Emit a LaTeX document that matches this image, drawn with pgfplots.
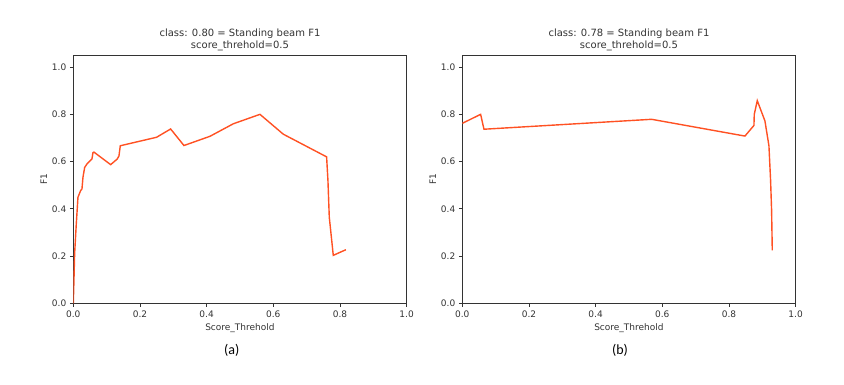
\documentclass[border=0pt]{standalone}
\usepackage{pgfplots}
\pgfplotsset{compat=1.18}
\usepackage{fontspec}
\setmainfont{DejaVu Sans}
\newfontfamily\capfont{Carlito}
\definecolor{f1line}{HTML}{FF5123}
\definecolor{axgray}{HTML}{333333}

\pgfplotsset{
  f1ax/.style={
    scale only axis, width=333.3pt, height=248pt,
    anchor=south west,
    xmin=0, xmax=1, ymin=0, ymax=1.05,
    xtick={0,0.2,...,1.0}, ytick={0,0.2,...,1.0},
    tick align=outside, tick pos=left,
    major tick length=3.5pt,
    axis line style={axgray, line width=0.8pt},
    every tick/.style={axgray, line width=0.8pt},
    tick label style={font=\fontsize{9}{10}\selectfont, text=axgray},
    xticklabel style={/pgf/number format/.cd, fixed, fixed zerofill, precision=1, assume math mode=true},
    yticklabel style={/pgf/number format/.cd, fixed, fixed zerofill, precision=1, assume math mode=true},
    xlabel={Score\_Threhold}, ylabel={F1},
    label style={font=\fontsize{9}{10}\selectfont, text=axgray},
    title style={font=\fontsize{10}{12}\selectfont, align=center, text=axgray, yshift=-5pt},
    xlabel style={yshift=0pt},
    ylabel style={yshift=-2pt},
  }
}

\begin{document}
\begin{tikzpicture}
\path (0,0) rectangle (844pt,385pt);

\begin{axis}[f1ax, at={(73.3pt,81.7pt)},
  title={class: 0.80 = Standing beam F1\\score\_threhold=0.5}]
\addplot[f1line, line width=1.4pt] coordinates {
(0.000,0.000) (0.002,0.100) (0.004,0.210) (0.009,0.337) (0.014,0.449)
(0.022,0.477) (0.026,0.484) (0.029,0.533) (0.034,0.575) (0.042,0.592)
(0.056,0.611) (0.059,0.638) (0.062,0.640) (0.112,0.587) (0.132,0.611)
(0.137,0.624) (0.141,0.667) (0.250,0.703) (0.292,0.738) (0.332,0.668)
(0.410,0.707) (0.480,0.760) (0.560,0.800) (0.630,0.716) (0.760,0.620)
(0.764,0.520) (0.768,0.365) (0.780,0.203) (0.818,0.227)
};
\end{axis}

\begin{axis}[f1ax, at={(462.3pt,81.7pt)},
  title={class: 0.78 = Standing beam F1\\score\_threhold=0.5}]
\addplot[f1line, line width=1.4pt] coordinates {
(0.000,0.762) (0.055,0.800) (0.065,0.737) (0.568,0.779) (0.848,0.708)
(0.875,0.753) (0.876,0.800) (0.885,0.858) (0.908,0.772) (0.920,0.667)
(0.925,0.519) (0.928,0.393) (0.930,0.224)
};
\end{axis}

\node[font=\capfont\fontsize{14}{16}\selectfont] at (231.7pt,35pt) {(a)};
\node[font=\capfont\fontsize{14}{16}\selectfont] at (620pt,35pt) {(b)};
\end{tikzpicture}
\end{document}
